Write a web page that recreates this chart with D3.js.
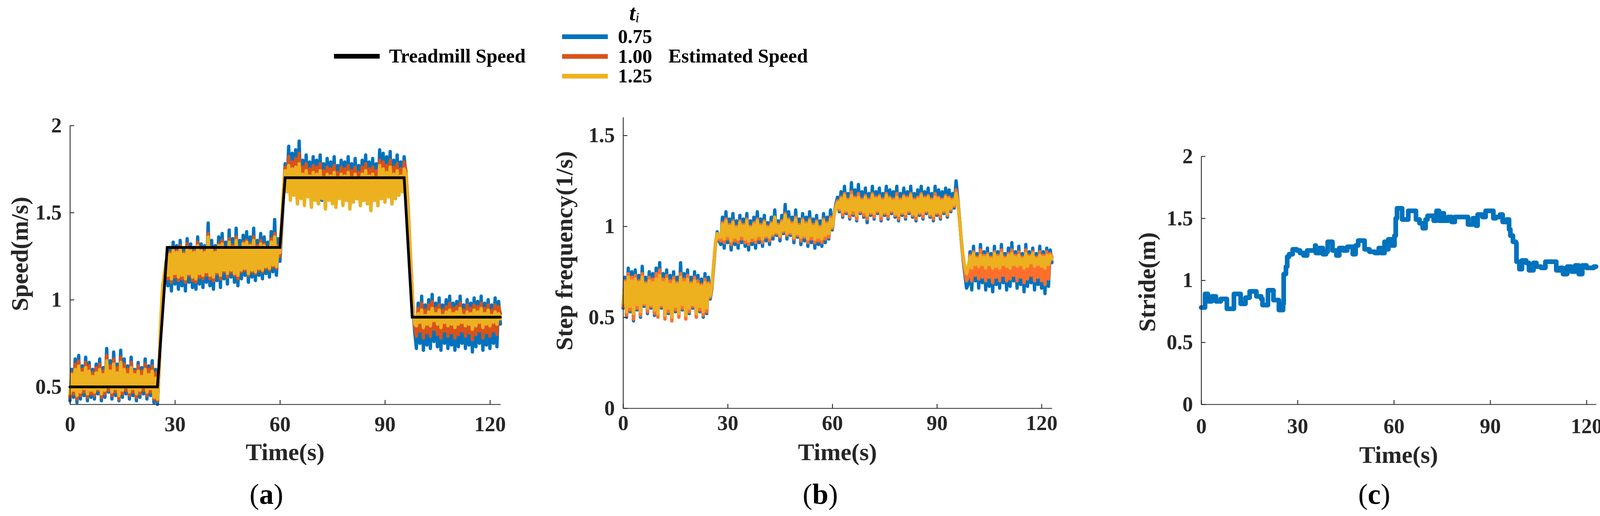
<!DOCTYPE html>
<html>
<head>
<meta charset="utf-8">
<script src="https://cdn.jsdelivr.net/npm/d3@7"></script>
<style>
  body { margin: 0; background: #fff; }
  text { font-family: "Liberation Serif", "Times New Roman", serif; }
</style>
</head>
<body>
<div id="chart"></div>
<script>
// sampling of the estimated traces (s)
const sampleStep = 0.5;

// (a) speed, treadmill reference
const treadmillTime = [0, 25, 27.8, 60, 61.5, 95.5, 97.8, 123];
const treadmillSpeed = [0.5, 0.5, 1.3, 1.3, 1.7, 1.7, 0.9, 0.9];

// (a) estimated speed for t_i = 0.75 / 1.00 / 1.25
const speed075 = [
  0.42,0.60, 0.44,0.66, 0.41,0.68, 0.43,0.62, 0.45,0.67, 0.42,0.64, 0.44,0.60, 0.43,0.63, 0.46,0.66, 0.42,0.61,
  0.44,0.72, 0.47,0.65, 0.43,0.70, 0.45,0.63, 0.42,0.71, 0.44,0.66, 0.46,0.62, 0.43,0.67, 0.45,0.60, 0.42,0.64,
  0.44,0.61, 0.46,0.66, 0.43,0.62, 0.45,0.65, 0.41,0.60,
  0.40,0.62,0.86,1.05,1.12,1.20,
  1.08,1.30, 1.05,1.33, 1.09,1.31, 1.06,1.34, 1.08,1.29, 1.05,1.35, 1.10,1.32, 1.07,1.30, 1.06,1.36, 1.09,1.32,
  1.07,1.31, 1.10,1.44, 1.08,1.34, 1.06,1.31, 1.11,1.36, 1.07,1.38, 1.12,1.33, 1.09,1.40, 1.13,1.35, 1.10,1.41,
  1.08,1.34, 1.12,1.37, 1.14,1.39, 1.10,1.36, 1.13,1.41, 1.11,1.34, 1.14,1.38, 1.12,1.36, 1.15,1.33, 1.13,1.39,
  1.16,1.46, 1.14,1.35,
  1.22,1.40,1.60,1.78,
  1.62,1.88, 1.58,1.84, 1.60,1.86, 1.55,1.91, 1.59,1.80, 1.56,1.83, 1.60,1.79, 1.54,1.82, 1.58,1.80, 1.55,1.83,
  1.57,1.78, 1.53,1.81, 1.58,1.79, 1.56,1.82, 1.54,1.77, 1.59,1.80, 1.55,1.79, 1.57,1.82, 1.53,1.78, 1.56,1.81,
  1.58,1.77, 1.54,1.80, 1.57,1.83, 1.55,1.79, 1.52,1.81, 1.57,1.78, 1.54,1.86, 1.58,1.84, 1.56,1.82, 1.59,1.85,
  1.55,1.80, 1.58,1.83, 1.60,1.79, 1.62,1.82,
  1.72,1.55,1.35,1.15,0.95,0.82,
  0.72,0.98, 0.75,1.02, 0.71,0.97, 0.74,1.00, 0.72,1.03, 0.76,0.98, 0.73,1.01, 0.71,0.97, 0.75,1.00, 0.72,1.02,
  0.74,0.98, 0.71,0.99, 0.73,1.02, 0.75,0.97, 0.72,1.00, 0.74,0.98, 0.70,1.01, 0.73,0.99, 0.75,1.02, 0.71,0.98,
  0.74,1.00, 0.72,0.97, 0.75,1.01, 0.73,0.99, 0.86
];
const speed100 = [
  0.44,0.58, 0.46,0.63, 0.43,0.65, 0.45,0.60, 0.47,0.64, 0.44,0.62, 0.46,0.58, 0.45,0.61, 0.48,0.63, 0.44,0.59,
  0.46,0.68, 0.48,0.62, 0.45,0.66, 0.47,0.61, 0.43,0.67, 0.46,0.63, 0.48,0.60, 0.45,0.64, 0.47,0.59, 0.44,0.62,
  0.46,0.59, 0.48,0.63, 0.45,0.60, 0.47,0.62, 0.43,0.58,
  0.42,0.62,0.88,1.06,1.14,1.22,
  1.12,1.27, 1.10,1.30, 1.13,1.28, 1.11,1.31, 1.12,1.27, 1.10,1.32, 1.14,1.29, 1.11,1.28, 1.10,1.33, 1.13,1.29,
  1.12,1.28, 1.14,1.38, 1.12,1.30, 1.11,1.28, 1.15,1.32, 1.12,1.34, 1.16,1.30, 1.13,1.35, 1.16,1.31, 1.14,1.36,
  1.12,1.30, 1.16,1.33, 1.17,1.34, 1.14,1.32, 1.16,1.36, 1.15,1.31, 1.17,1.34, 1.16,1.32, 1.18,1.30, 1.17,1.35,
  1.19,1.38, 1.18,1.31,
  1.25,1.42,1.62,1.76,
  1.64,1.82, 1.60,1.79, 1.62,1.81, 1.58,1.84, 1.61,1.76, 1.59,1.78, 1.62,1.75, 1.57,1.77, 1.60,1.76, 1.58,1.78,
  1.60,1.74, 1.56,1.76, 1.60,1.75, 1.58,1.77, 1.57,1.73, 1.61,1.76, 1.58,1.75, 1.60,1.77, 1.56,1.74, 1.59,1.76,
  1.60,1.73, 1.57,1.76, 1.60,1.78, 1.58,1.75, 1.56,1.76, 1.60,1.74, 1.57,1.80, 1.60,1.79, 1.59,1.77, 1.61,1.80,
  1.58,1.76, 1.60,1.78, 1.62,1.75, 1.64,1.79,
  1.74,1.58,1.38,1.17,0.97,0.85,
  0.79,0.95, 0.82,0.98, 0.78,0.94, 0.81,0.97, 0.79,0.99, 0.83,0.95, 0.80,0.97, 0.78,0.94, 0.82,0.96, 0.79,0.98,
  0.81,0.95, 0.78,0.96, 0.80,0.98, 0.82,0.94, 0.79,0.97, 0.81,0.95, 0.77,0.97, 0.80,0.96, 0.82,0.98, 0.78,0.95,
  0.81,0.97, 0.79,0.94, 0.82,0.97, 0.80,0.96, 0.92
];
const speed125 = [
  0.46,0.57, 0.48,0.60, 0.45,0.62, 0.47,0.58, 0.49,0.61, 0.46,0.59, 0.48,0.56, 0.47,0.58, 0.49,0.60, 0.46,0.57,
  0.48,0.65, 0.50,0.59, 0.47,0.63, 0.49,0.58, 0.45,0.64, 0.48,0.60, 0.50,0.57, 0.47,0.61, 0.49,0.57, 0.46,0.59,
  0.48,0.56, 0.50,0.60, 0.47,0.57, 0.49,0.59, 0.44,0.55,
  0.43,0.64,0.90,1.08,1.15,1.22,
  1.14,1.26, 1.12,1.28, 1.15,1.27, 1.13,1.29, 1.14,1.26, 1.12,1.30, 1.15,1.28, 1.13,1.27, 1.12,1.31, 1.15,1.28,
  1.14,1.27, 1.16,1.36, 1.14,1.29, 1.13,1.27, 1.16,1.31, 1.14,1.32, 1.17,1.29, 1.15,1.33, 1.17,1.30, 1.15,1.34,
  1.14,1.29, 1.17,1.32, 1.18,1.33, 1.15,1.31, 1.17,1.34, 1.16,1.30, 1.18,1.32, 1.17,1.31, 1.19,1.29, 1.18,1.33,
  1.20,1.36, 1.19,1.30,
  1.27,1.44,1.63,1.74,
  1.62,1.77, 1.57,1.75, 1.60,1.76, 1.55,1.78, 1.58,1.72, 1.54,1.74, 1.59,1.71, 1.53,1.73, 1.57,1.72, 1.55,1.74,
  1.58,1.70, 1.52,1.72, 1.57,1.71, 1.55,1.73, 1.53,1.70, 1.58,1.72, 1.54,1.71, 1.57,1.73, 1.52,1.70, 1.56,1.72,
  1.58,1.69, 1.54,1.72, 1.57,1.74, 1.55,1.71, 1.51,1.72, 1.57,1.70, 1.54,1.77, 1.58,1.75, 1.56,1.73, 1.59,1.76,
  1.55,1.72, 1.58,1.74, 1.60,1.71, 1.62,1.75,
  1.72,1.56,1.37,1.16,0.96,0.86,
  0.85,0.92, 0.87,0.94, 0.84,0.91, 0.86,0.93, 0.85,0.95, 0.88,0.92, 0.86,0.94, 0.84,0.91, 0.87,0.93, 0.85,0.94,
  0.86,0.92, 0.84,0.93, 0.86,0.95, 0.87,0.91, 0.85,0.93, 0.86,0.92, 0.83,0.94, 0.85,0.93, 0.87,0.95, 0.84,0.92,
  0.86,0.94, 0.85,0.91, 0.87,0.93, 0.86,0.92, 0.89
];

// (b) step frequency for t_i = 0.75 / 1.00 / 1.25
const freq075 = [
  0.55,0.72, 0.50,0.77, 0.53,0.75, 0.48,0.76, 0.54,0.73, 0.50,0.78, 0.56,0.72, 0.52,0.75, 0.55,0.74, 0.51,0.77,
  0.53,0.80, 0.55,0.74, 0.50,0.76, 0.52,0.73, 0.49,0.75, 0.53,0.72, 0.51,0.80, 0.54,0.74, 0.50,0.76, 0.52,0.72,
  0.55,0.75, 0.51,0.73, 0.53,0.71, 0.50,0.74, 0.52,0.72,
  0.60,0.66,0.78,0.90,0.97,0.92,
  0.90,1.05, 0.88,1.08, 0.91,1.04, 0.87,1.07, 0.90,1.03, 0.88,1.06, 0.91,1.04, 0.89,1.07, 0.87,1.03, 0.90,1.05,
  0.88,1.08, 0.91,1.04, 0.89,1.06, 0.92,1.02, 0.90,1.05, 0.93,1.09, 0.95,1.03, 0.92,1.06, 0.96,1.12, 0.93,1.08,
  0.95,1.05, 0.91,1.09, 0.94,1.04, 0.90,1.07, 0.92,1.05, 0.89,1.08, 0.91,1.04, 0.88,1.06, 0.90,1.03, 0.89,1.07,
  0.91,1.05, 0.93,1.09,
  0.98,1.06,1.12,1.16,
  1.08,1.19, 1.05,1.22, 1.07,1.18, 1.04,1.24, 1.06,1.20, 1.03,1.23, 1.07,1.19, 1.05,1.21, 1.02,1.18, 1.06,1.22,
  1.04,1.19, 1.07,1.21, 1.03,1.18, 1.06,1.22, 1.04,1.20, 1.07,1.19, 1.05,1.22, 1.03,1.18, 1.06,1.21, 1.04,1.19,
  1.07,1.22, 1.05,1.18, 1.03,1.20, 1.06,1.22, 1.04,1.19, 1.07,1.21, 1.05,1.18, 1.03,1.22, 1.06,1.20, 1.04,1.19,
  1.07,1.21, 1.05,1.20, 1.08,1.18, 1.10,1.25,
  1.15,1.04,0.92,0.82,0.74,0.66,
  0.68,0.86, 0.65,0.89, 0.70,0.85, 0.66,0.90, 0.69,0.86, 0.65,0.88, 0.67,0.85, 0.64,0.89, 0.68,0.86, 0.66,0.90,
  0.69,0.85, 0.65,0.88, 0.67,0.91, 0.70,0.86, 0.66,0.89, 0.68,0.85, 0.64,0.90, 0.67,0.86, 0.69,0.88, 0.65,0.85,
  0.68,0.89, 0.66,0.86, 0.63,0.88, 0.67,0.87, 0.80
];
const freq100 = [
  0.56,0.70, 0.51,0.74, 0.54,0.72, 0.49,0.73, 0.55,0.70, 0.51,0.74, 0.57,0.69, 0.53,0.72, 0.56,0.71, 0.52,0.74,
  0.50,0.76, 0.56,0.71, 0.49,0.73, 0.53,0.70, 0.48,0.72, 0.54,0.69, 0.50,0.74, 0.55,0.71, 0.49,0.73, 0.53,0.69,
  0.56,0.72, 0.50,0.70, 0.54,0.68, 0.51,0.71, 0.53,0.69,
  0.61,0.67,0.79,0.90,0.96,0.93,
  0.92,1.02, 0.91,1.04, 0.93,1.01, 0.90,1.03, 0.92,1.00, 0.91,1.03, 0.93,1.01, 0.91,1.04, 0.90,1.00, 0.92,1.02,
  0.91,1.04, 0.93,1.01, 0.91,1.03, 0.94,1.00, 0.92,1.02, 0.95,1.05, 0.96,1.01, 0.94,1.03, 0.97,1.07, 0.95,1.04,
  0.96,1.02, 0.93,1.05, 0.95,1.01, 0.92,1.04, 0.94,1.02, 0.91,1.04, 0.93,1.01, 0.91,1.03, 0.92,1.00, 0.91,1.04,
  0.93,1.02, 0.94,1.05,
  0.99,1.06,1.11,1.14,
  1.09,1.16, 1.06,1.18, 1.08,1.15, 1.05,1.19, 1.07,1.16, 1.04,1.18, 1.08,1.15, 1.06,1.17, 1.04,1.15, 1.07,1.18,
  1.05,1.16, 1.08,1.17, 1.04,1.15, 1.07,1.18, 1.05,1.16, 1.08,1.15, 1.06,1.18, 1.04,1.15, 1.07,1.17, 1.05,1.16,
  1.08,1.18, 1.06,1.15, 1.04,1.16, 1.07,1.18, 1.05,1.16, 1.08,1.17, 1.06,1.15, 1.04,1.18, 1.07,1.16, 1.05,1.15,
  1.08,1.17, 1.06,1.16, 1.09,1.15, 1.11,1.20,
  1.14,1.04,0.93,0.83,0.76,0.70,
  0.72,0.84, 0.70,0.86, 0.73,0.83, 0.71,0.87, 0.72,0.84, 0.70,0.85, 0.72,0.83, 0.69,0.86, 0.72,0.84, 0.70,0.87,
  0.73,0.83, 0.70,0.85, 0.71,0.87, 0.73,0.84, 0.70,0.86, 0.72,0.83, 0.69,0.87, 0.71,0.84, 0.73,0.86, 0.70,0.83,
  0.72,0.86, 0.70,0.84, 0.68,0.86, 0.71,0.85, 0.83
];
const freq125 = [
  0.58,0.69, 0.53,0.72, 0.56,0.70, 0.52,0.71, 0.57,0.69, 0.53,0.72, 0.58,0.68, 0.55,0.70, 0.57,0.69, 0.54,0.71,
  0.52,0.73, 0.57,0.69, 0.51,0.71, 0.55,0.68, 0.50,0.70, 0.56,0.68, 0.52,0.72, 0.57,0.69, 0.51,0.71, 0.55,0.68,
  0.57,0.70, 0.52,0.68, 0.56,0.67, 0.53,0.69, 0.55,0.68,
  0.62,0.68,0.80,0.91,0.96,0.94,
  0.94,1.01, 0.93,1.03, 0.95,1.00, 0.92,1.02, 0.94,0.99, 0.93,1.02, 0.95,1.00, 0.93,1.03, 0.92,0.99, 0.94,1.01,
  0.93,1.03, 0.95,1.00, 0.93,1.02, 0.95,0.99, 0.94,1.01, 0.96,1.05, 0.97,1.00, 0.95,1.02, 0.98,1.06, 0.96,1.03,
  0.97,1.01, 0.94,1.04, 0.96,1.00, 0.94,1.03, 0.95,1.01, 0.93,1.03, 0.95,1.00, 0.93,1.02, 0.94,0.99, 0.93,1.03,
  0.95,1.01, 0.96,1.04,
  1.00,1.06,1.10,1.13,
  1.10,1.15, 1.08,1.17, 1.09,1.14, 1.07,1.17, 1.09,1.15, 1.06,1.16, 1.09,1.14, 1.08,1.16, 1.06,1.14, 1.08,1.17,
  1.07,1.15, 1.09,1.16, 1.06,1.14, 1.08,1.17, 1.07,1.15, 1.09,1.14, 1.07,1.16, 1.06,1.14, 1.08,1.16, 1.07,1.15,
  1.09,1.17, 1.07,1.14, 1.06,1.15, 1.08,1.17, 1.07,1.15, 1.09,1.16, 1.07,1.14, 1.06,1.16, 1.08,1.15, 1.07,1.14,
  1.09,1.16, 1.07,1.15, 1.10,1.14, 1.12,1.18,
  1.13,1.03,0.93,0.84,0.78,0.74,
  0.78,0.83, 0.77,0.85, 0.79,0.82, 0.78,0.84, 0.79,0.83, 0.77,0.84, 0.79,0.82, 0.77,0.85, 0.78,0.83, 0.77,0.85,
  0.79,0.82, 0.78,0.84, 0.77,0.85, 0.79,0.83, 0.78,0.84, 0.79,0.82, 0.77,0.85, 0.78,0.83, 0.80,0.85, 0.78,0.82,
  0.79,0.84, 0.78,0.83, 0.77,0.84, 0.79,0.84, 0.82
];

// (c) stride length, held until the next step
const strideTime = [
  0, 1.2, 2.1, 3.3, 4.6, 6.1, 8.0, 10.2, 12.3, 13.8, 15.1, 17.2, 18.7, 19.1, 20.8, 22.5, 24.2, 25.5, 25.7, 26.4,
  26.8, 27.4, 28.5, 29.8, 30.8, 31.9, 33.0, 35.5, 35.7, 36.8, 37.9, 38.9, 39.4, 40.9, 42.1, 43.0, 44.3, 45.5, 47.2, 48.1,
  48.9, 50.9, 52.4, 54.1, 55.3, 56.0, 57.1, 57.5, 58.3, 59.4, 60.2, 60.6, 61.0, 62.6, 64.5, 66.9, 68.0, 69.0, 69.9, 70.5,
  72.4, 73.3, 74.1, 75.2, 75.6, 76.9, 78.0, 79.0, 83.1, 84.6, 85.6, 86.1, 87.6, 88.6, 91.0, 91.8, 93.1, 93.9, 95.2, 95.9,
  96.3, 97.1, 98.0, 98.2, 99.1, 99.9, 101.2, 102.1, 103.5, 104.4, 105.9, 107.2, 110.6, 111.8, 112.7, 114.0, 115.3, 116.5, 117.6, 118.7,
  120.0, 121.2, 122.3, 123.0
];
const strideValue = [
  0.78, 0.89, 0.83, 0.87, 0.83, 0.85, 0.77, 0.89, 0.81, 0.86, 0.91, 0.87, 0.85, 0.80, 0.92, 0.84, 0.76, 0.81, 1.05, 1.11,
  1.19, 1.21, 1.25, 1.24, 1.22, 1.20, 1.24, 1.28, 1.22, 1.26, 1.21, 1.23, 1.31, 1.24, 1.20, 1.26, 1.24, 1.27, 1.21, 1.28,
  1.32, 1.25, 1.23, 1.22, 1.26, 1.22, 1.31, 1.25, 1.33, 1.28, 1.36, 1.50, 1.58, 1.49, 1.56, 1.49, 1.46, 1.42, 1.49, 1.52,
  1.48, 1.56, 1.48, 1.54, 1.48, 1.51, 1.47, 1.51, 1.45, 1.50, 1.44, 1.53, 1.51, 1.56, 1.50, 1.51, 1.53, 1.47, 1.49, 1.41,
  1.36, 1.31, 1.30, 1.15, 1.09, 1.16, 1.14, 1.08, 1.14, 1.11, 1.10, 1.15, 1.08, 1.10, 1.05, 1.11, 1.07, 1.12, 1.05, 1.12,
  1.10, 1.10, 1.11, 1.11
];

const timeTicks = [0, 30, 60, 90, 120];
const legendLevels = ["0.75", "1.00", "1.25"];

const BLUE = "#0072BD", ORANGE = "#D95319", ORANGE_B = "#FF6F2C", YELLOW = "#EDB120", INK = "#262626";
const FONT = '"Liberation Serif", "Times New Roman", serif';

class TracePanel {
  constructor(_config, _traces) {
    this.config = _config;
    this.traces = _traces;
    this.initVis();
  }

  initVis() {
    let vis = this;
    let c = vis.config;

    vis.g = c.parent.append("g");

    vis.x = d3.scaleLinear().domain([0, 123]).range([c.left, c.right]);
    vis.y = d3.scaleLinear().domain(c.yDomain).range([c.bottom, c.top]);

    // data first, axes are drawn on top like MATLAB does
    vis.traces.forEach(tr => {
      let line = d3.line()
        .x((d, i) => tr.t ? vis.x(tr.t[i]) : vis.x(i * sampleStep))
        .y(d => vis.y(d));
      if (tr.step) line.curve(d3.curveStepAfter);
      vis.g.append("path")
        .attr("d", line(tr.v))
        .attr("fill", "none")
        .attr("stroke", tr.color)
        .attr("stroke-width", tr.width)
        .attr("stroke-linejoin", tr.join || "round")
        .attr("stroke-linecap", "round");
    });

    let xAxis = d3.axisBottom(vis.x).tickValues(timeTicks).tickSizeInner(-11).tickSizeOuter(0)
      .tickPadding(c.xPad).tickFormat(d3.format("d"));
    let yAxis = d3.axisLeft(vis.y).tickValues(c.yTicks).tickSizeInner(-11).tickSizeOuter(0)
      .tickPadding(21).tickFormat(d => String(d));

    let gx = vis.g.append("g").attr("transform", `translate(0,${c.bottom})`).call(xAxis);
    let gy = vis.g.append("g").attr("transform", `translate(${c.left},0)`).call(yAxis);

    [gx, gy].forEach(a => {
      a.select(".domain").attr("stroke", INK).attr("stroke-width", 2.2);
      a.selectAll(".tick line").attr("stroke", INK).attr("stroke-width", 2.2);
      a.selectAll(".tick text")
        .attr("fill", INK)
        .style("font-family", FONT)
        .style("font-size", "54px")
        .style("font-weight", "bold");
    });

    // axis titles
    vis.g.append("text")
      .attr("x", (c.left + c.right) / 2)
      .attr("y", c.xLabelY)
      .attr("text-anchor", "middle")
      .attr("fill", INK)
      .style("font-size", "62px")
      .style("font-weight", "bold")
      .text("Time(s)");

    vis.g.append("text")
      .attr("transform", `translate(${c.yLabelX},${c.yLabelY}) rotate(-90)`)
      .attr("text-anchor", "middle")
      .attr("fill", INK)
      .style("font-size", "62px")
      .style("font-weight", "bold")
      .text(c.yLabel);

    // sub-figure caption, (a) (b) (c)
    let cap = vis.g.append("text")
      .attr("x", c.captionX)
      .attr("y", 1290)
      .attr("text-anchor", "middle")
      .attr("fill", "#000")
      .style("font-size", "74px");
    cap.append("tspan").text("(");
    cap.append("tspan").style("font-weight", "bold").text(c.caption);
    cap.append("tspan").text(")");
  }
}

const svg = d3.select("#chart").append("svg")
  .attr("width", 4126)
  .attr("height", 1321)
  .style("background", "#fff");

new TracePanel({
  parent: svg, left: 179, right: 1281, top: 321, bottom: 1035,
  yDomain: [0.4, 2], yTicks: [0.5, 1, 1.5, 2], xPad: 31,
  yLabel: "Speed(m/s)", yLabelX: 71, yLabelY: 650, xLabelY: 1178,
  caption: "a", captionX: 682
}, [
  { v: speed075, color: BLUE, width: 8.5 },
  { v: speed100, color: ORANGE, width: 8.5 },
  { v: speed125, color: YELLOW, width: 8.5 },
  { v: treadmillSpeed, t: treadmillTime, color: "#000", width: 7, join: "miter" }
]);

new TracePanel({
  parent: svg, left: 1595, right: 2693, top: 300, bottom: 1045,
  yDomain: [0, 1.6], yTicks: [0, 0.5, 1, 1.5], xPad: 18,
  yLabel: "Step frequency(1/s)", yLabelX: 1465, yLabelY: 642, xLabelY: 1178,
  caption: "b", captionX: 2100
}, [
  { v: freq075, color: BLUE, width: 8.5 },
  { v: freq100, color: ORANGE_B, width: 8.5 },
  { v: freq125, color: YELLOW, width: 8.5 }
]);

new TracePanel({
  parent: svg, left: 3075, right: 4086, top: 400, bottom: 1035,
  yDomain: [0, 2], yTicks: [0, 0.5, 1, 1.5, 2], xPad: 36,
  yLabel: "Stride(m)", yLabelX: 2957, yLabelY: 722, xLabelY: 1185,
  caption: "c", captionX: 3518
}, [
  { v: strideValue, t: strideTime, color: BLUE, width: 12, step: true }
]);

// legend
const legend = svg.append("g").style("font-size", "50px").style("font-weight", "bold");

legend.append("line")
  .attr("x1", 855).attr("x2", 972).attr("y1", 144).attr("y2", 144)
  .attr("stroke", "#000").attr("stroke-width", 12);
legend.append("text").attr("x", 996).attr("y", 160).text("Treadmill Speed");

const ti = legend.append("text").attr("x", 1611).attr("y", 52)
  .style("font-style", "italic").style("font-size", "56px");
ti.append("tspan").text("t");
ti.append("tspan").attr("dy", 5).style("font-size", "36px").style("font-weight", "normal").text("i");

const legendColors = [BLUE, ORANGE, YELLOW];
legendLevels.forEach((lv, i) => {
  let yy = 94 + i * 50.5;
  legend.append("line")
    .attr("x1", 1439).attr("x2", 1556).attr("y1", yy).attr("y2", yy)
    .attr("stroke", legendColors[i]).attr("stroke-width", 12);
  legend.append("text").attr("x", 1582).attr("y", yy + 16).text(lv);
});
legend.append("text").attr("x", 1711).attr("y", 160).text("Estimated Speed");
</script>
</body>
</html>
